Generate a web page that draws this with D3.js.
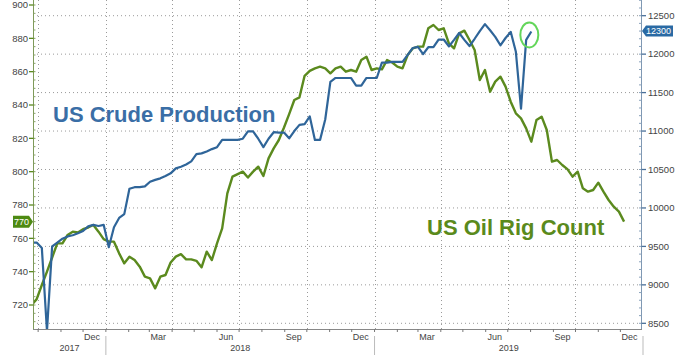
<!DOCTYPE html>
<html><head><meta charset="utf-8">
<script src="https://cdn.jsdelivr.net/npm/d3@7"></script>
<style>
html,body{margin:0;padding:0;background:#fff;}
svg{display:block;font-family:"Liberation Sans",Arial,sans-serif;}
</style></head>
<body><svg id="c" width="680" height="355"></svg>
<script>
// ---- data (weekly, starting Friday 2017-09-22) ----
const seriesStart = "2017-09-22";
const crudeProduction = [9550,9550,9480,8400,9500,9550,9600,9630,9645,9670,9700,9760,9780,9765,9780,
  9490,9750,9870,9920,10250,10270,10270,10280,10340,10365,10385,10415,10450,10515,10535,10565,10605,
  10700,10710,10735,10765,10790,10885,10885,10885,10885,10900,10995,10995,10900,10790,10900,10985,
  10980,10980,10905,11000,11080,11090,11190,10885,10885,11150,11640,11690,11690,11690,11690,11590,
  11590,11690,11690,11690,11890,11890,11900,11900,11900,11990,12080,12095,12000,12090,12090,12190,
  12190,12100,12185,12275,12185,12105,12200,12300,12390,12310,12225,12115,12210,12290,12030,11290,
  12185,12295];
const rigCount = [720,723.5,732,740,748.5,757,757,762,764,763.5,765.5,766.5,768,764,759.5,758,758,751,
  745,749,747,743,737,736,730,737,738,745.5,749,750.5,747.4,747.4,746.5,742.6,752,747,757,766,787,797,
  798.5,800,796.5,800,803,797.4,808,814,819,826.5,834.5,843,844.6,857.5,860.5,862,863,862,859,862,863,
  860,861,860,867,869,861,862,861.4,867,865.5,863,862,870,874,875,875,886,888,885,886,877,874,883,
  884.6,879,873,855,861,848,854,857,851,842,835,832,826,818,831,833,825,806,807,804,801.5,797,800,790,
  788,789,793.4,788,783,779,776,770];
const leftTicks = [720,740,760,780,800,820,840,860,880,900];
const rightTicks = [8500,9000,9500,10000,10500,11000,11500,12000,12500];
const monthLabels = ["2017-12","2018-03","2018-06","2018-09","2018-12","2019-03","2019-06","2019-09","2019-12"];
const yearLabels = ["2017","2018","2019"];
const crudeLabel = "US Crude Production";
const rigLabel = "US Oil Rig Count";
const rigLast = 770, crudeLast = 12300;

// ---- layout ----
const L = 33, R = 641, T = 0, B = 329;
const BLUE = "#2f6599", GREEN = "#5b8a1e";
const parse = d3.timeParse("%Y-%m-%d");
const x = d3.scaleTime().domain([parse("2017-09-24"), parse("2019-12-29")]).range([L, R]);
const yL = d3.scaleLinear().domain([705.6, 903]).range([B, T]);
const yR = d3.scaleLinear().domain([8426, 12704]).range([B, T]);
const start = parse(seriesStart);
const wk = i => d3.timeDay.offset(start, 7 * i);

const svg = d3.select("#c");
svg.append("defs").append("clipPath").attr("id", "clip")
  .append("rect").attr("x", L).attr("y", T).attr("width", R - L).attr("height", B - T);

// grid: horizontal dotted at right ticks
const grid = svg.append("g");
grid.selectAll("line.h").data(rightTicks).join("line")
  .attr("x1", L).attr("x2", R).attr("y1", d => yR(d)).attr("y2", d => yR(d))
  .attr("stroke", "#9a9a9a").attr("stroke-width", 1).attr("stroke-dasharray", "1,3");
// vertical dotted at quarter starts
const quarters = d3.timeMonth.every(3).range(parse("2017-10-01"), parse("2019-12-01"));
grid.selectAll("line.v").data(quarters).join("line")
  .attr("x1", d => Math.round(x(d)) + 0.5).attr("x2", d => Math.round(x(d)) + 0.5)
  .attr("y1", T).attr("y2", B)
  .attr("stroke", "#9a9a9a").attr("stroke-width", 1).attr("stroke-dasharray", "1,3");

// lines
const plot = svg.append("g").attr("clip-path", "url(#clip)");
plot.append("path").datum(rigCount)
  .attr("d", d3.line().x((d, i) => x(wk(i))).y(d => yL(d)))
  .attr("fill", "none").attr("stroke", GREEN).attr("stroke-width", 2.4).attr("stroke-linejoin", "round");
plot.append("path").datum(crudeProduction)
  .attr("d", d3.line().x((d, i) => x(wk(i))).y(d => yR(d)))
  .attr("fill", "none").attr("stroke", BLUE).attr("stroke-width", 2.2).attr("stroke-linejoin", "round");

// annotation ellipse around latest crude value
const lastI = crudeProduction.length - 1;
svg.append("ellipse").attr("cx", x(wk(lastI)) - 2).attr("cy", yR(12250))
  .attr("rx", 9).attr("ry", 12.5).attr("fill", "none").attr("stroke", "#63d65a").attr("stroke-width", 2);

// left axis
const gL = svg.append("g").attr("transform", `translate(${L},0)`);
gL.append("line").attr("x1", 0.5).attr("x2", 0.5).attr("y1", 0).attr("y2", B).attr("stroke", "#7f9a5a");
gL.selectAll("line.mn").data(d3.range(710, 901, 5)).join("line")
  .attr("x1", 0.5).attr("x2", 2.5).attr("y1", d => yL(d)).attr("y2", d => yL(d)).attr("stroke", "#8aa36a");
gL.selectAll("line.mj").data(leftTicks).join("line")
  .attr("x1", -4).attr("x2", 0.5).attr("y1", d => yL(d)).attr("y2", d => yL(d)).attr("stroke", GREEN).attr("stroke-width", 1.3);
gL.selectAll("text").data(leftTicks).join("text")
  .attr("x", -5).attr("y", d => yL(d)).attr("dy", "0.35em").attr("text-anchor", "end")
  .attr("font-size", 9.5).attr("fill", "#444").text(d => d);

// right axis
const gR = svg.append("g").attr("transform", `translate(${R},0)`);
gR.append("line").attr("x1", 0.5).attr("x2", 0.5).attr("y1", 0).attr("y2", B).attr("stroke", "#7f98b3");
gR.selectAll("line.mn").data(d3.range(8500, 12701, 100)).join("line")
  .attr("x1", -2).attr("x2", 0.5).attr("y1", d => yR(d)).attr("y2", d => yR(d)).attr("stroke", "#8aa2bb");
gR.selectAll("line.mj").data(rightTicks).join("line")
  .attr("x1", 0.5).attr("x2", 5).attr("y1", d => yR(d)).attr("y2", d => yR(d)).attr("stroke", "#4a7099").attr("stroke-width", 1.3);
gR.selectAll("text").data(rightTicks).join("text")
  .attr("x", 7).attr("y", d => yR(d)).attr("dy", "0.35em").attr("text-anchor", "start")
  .attr("font-size", 9.5).attr("fill", "#444").text(d => d);

// bottom axis
const gB = svg.append("g");
gB.append("line").attr("x1", L).attr("x2", R + 1).attr("y1", B + 0.5).attr("y2", B + 0.5).attr("stroke", "#888");
const months = d3.timeMonth.range(parse("2017-10-01"), parse("2019-12-29"));
gB.selectAll("line.mt").data(months).join("line")
  .attr("x1", d => x(d)).attr("x2", d => x(d)).attr("y1", B).attr("y2", B + 3).attr("stroke", "#777");
const ym = d3.timeParse("%Y-%m");
gB.selectAll("text.m").data(monthLabels).join("text")
  .attr("x", d => x(d3.timeDay.offset(ym(d), 15)) - 2).attr("y", 340).attr("text-anchor", "middle")
  .attr("font-size", 9).attr("fill", "#444").text(d => d3.timeFormat("%b")(ym(d)));
const yrBounds = [parse("2018-01-01"), parse("2019-01-01"), parse("2020-01-01")];
gB.selectAll("line.ys").data(yrBounds).join("line")
  .attr("x1", d => Math.min(x(d), R + 2)).attr("x2", d => Math.min(x(d), R + 2)).attr("y1", 336).attr("y2", 355)
  .attr("stroke", "#bbb");
gB.selectAll("text.y").data(yearLabels).join("text")
  .attr("x", d => {
    const a = Math.max(x(parse(d + "-01-01")), L), b = Math.min(x(parse((+d + 1) + "-01-01")), R + 2);
    return (a + b) / 2;
  })
  .attr("y", 351).attr("text-anchor", "middle").attr("font-size", 9).attr("fill", "#444").text(d => d);

// end-value tags
const ty = yL(rigLast);
svg.append("path").attr("d", `M13,${ty - 6}H29L${L},${ty}L29,${ty + 6}H13Z`).attr("fill", "#4d8a12");
svg.append("text").attr("x", 21.5).attr("y", ty).attr("dy", "0.35em").attr("text-anchor", "middle")
  .attr("font-size", 9).attr("fill", "#fff").text(rigLast);
const by = yR(crudeLast);
svg.append("path").attr("d", `M${R + 1},${by}L${R + 5},${by - 5.5}H673V${by + 5.5}H${R + 5}Z`).attr("fill", "#2a6aa4");
svg.append("text").attr("x", 658.5).attr("y", by).attr("dy", "0.35em").attr("text-anchor", "middle")
  .attr("font-size", 9).attr("fill", "#fff").text(crudeLast);

// series labels
svg.append("text").attr("x", 53).attr("y", 122).attr("font-size", 22).attr("font-weight", "bold")
  .attr("fill", "#3a6ea6").text(crudeLabel);
svg.append("text").attr("x", 427).attr("y", 234.5).attr("font-size", 22).attr("font-weight", "bold")
  .attr("fill", "#5a8a1c").text(rigLabel);
</script></body></html>
